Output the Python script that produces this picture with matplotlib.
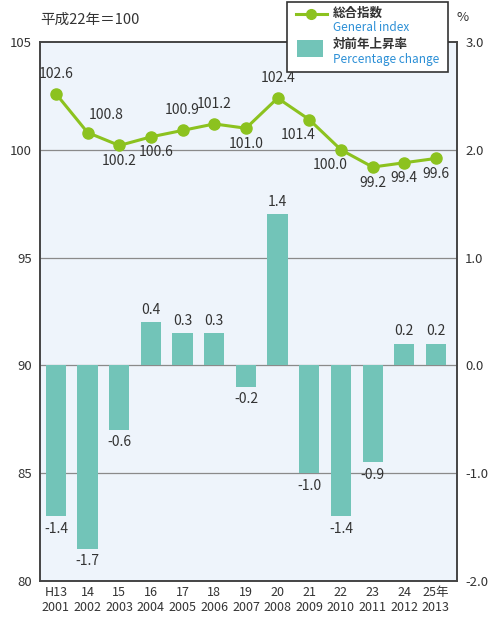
import numpy as np
import matplotlib.pyplot as plt
from matplotlib.lines import Line2D
from matplotlib.patches import Rectangle

plt.rcParams['font.family'] = ['Noto Sans CJK JP', 'DejaVu Sans']

# 年ラベル
jp_years = ['H13', '14', '15', '16', '17', '18', '19', '20', '21', '22', '23', '24', '25年']
ad_years = ['2001', '2002', '2003', '2004', '2005', '2006', '2007', '2008', '2009', '2010', '2011', '2012', '2013']

# 総合指数
index_vals = [102.6, 100.8, 100.2, 100.6, 100.9, 101.2, 101.0, 102.4, 101.4, 100.0, 99.2, 99.4, 99.6]
# 対前年上昇率
change_vals = [-1.4, -1.7, -0.6, 0.4, 0.3, 0.3, -0.2, 1.4, -1.0, -1.4, -0.9, 0.2, 0.2]
# ラベル位置と横ずれ
label_pos = ['up', 'upr', 'down', 'down', 'up', 'up', 'down', 'up', 'down', 'down', 'down', 'down', 'down']
label_dx = [0, 0.05, 0, 0.15, 0, 0, 0, 0, -0.35, -0.35, 0, 0, 0]

line_color = '#8cc21f'
bar_color = '#72c4b8'
text_color = '#333333'
en_color = '#2b8fd6'

fig = plt.figure(figsize=(4.95, 6.18), dpi=100)
ax = fig.add_axes([0.081, 0.06, 0.842, 0.872])
ax.set_facecolor('#eef4fb')
ax2 = ax.twinx()

x = np.arange(len(jp_years))

# 棒グラフ (右軸)
ax2.bar(x, change_vals, width=0.64, color=bar_color, zorder=2)
for xi, v in zip(x, change_vals):
    if v >= 0:
        ax2.text(xi, v + 0.05, f'{v:.1f}', ha='center', va='bottom', fontsize=10, color=text_color)
    else:
        ax2.text(xi, v - 0.05, f'{v:.1f}', ha='center', va='top', fontsize=10, color=text_color)
ax2.set_ylim(-2.0, 3.0)
ax2.set_yticks([-2.0, -1.0, 0.0, 1.0, 2.0, 3.0])
ax2.set_yticklabels(['-2.0', '-1.0', '0.0', '1.0', '2.0', '3.0'])

# 横線
for yv in [85, 90, 95, 100]:
    ax.axhline(yv, color='#8a8a8a', lw=0.9, zorder=0)

# 折れ線 (左軸の値を右軸に換算して前面に描く)
def to_right(v):
    return (v - 80) / 25 * 5 - 2.0

ax2.plot(x, [to_right(v) for v in index_vals], color=line_color, lw=2.2,
         marker='o', markersize=8, zorder=4)
for xi, v, p, dx in zip(x, index_vals, label_pos, label_dx):
    yr = to_right(v)
    if p == 'up':
        ax2.text(xi + dx, yr + 0.12, f'{v:.1f}', ha='center', va='bottom', fontsize=10, color=text_color, zorder=5)
    elif p == 'upr':
        ax2.text(xi + dx, yr + 0.1, f'{v:.1f}', ha='left', va='bottom', fontsize=10, color=text_color, zorder=5)
    else:
        ax2.text(xi + dx, yr - 0.08, f'{v:.1f}', ha='center', va='top', fontsize=10, color=text_color, zorder=5)

ax.set_ylim(80, 105)
ax.set_yticks([80, 85, 90, 95, 100, 105])
ax.set_xlim(-0.5, 12.66)
ax.set_xticks(x)
ax.set_xticklabels([f'{a}\n{b}' for a, b in zip(jp_years, ad_years)], fontsize=9, color=text_color, linespacing=1.15)

for a in (ax, ax2):
    a.tick_params(axis='y', labelsize=9.5, colors=text_color, length=0, pad=6)
    for s in a.spines.values():
        s.set_color('#444444')
        s.set_linewidth(1.2)
ax.tick_params(axis='x', length=0, pad=4)

fig.text(0.081, 0.968, '平成22年＝100', fontsize=10.5, color=text_color, va='center')
fig.text(0.922, 0.971, '%', fontsize=9.5, color=text_color, va='center')

# 凡例 (手描き)
fig.add_artist(Rectangle((0.58, 0.883), 0.325, 0.114, transform=fig.transFigure,
                         facecolor='white', edgecolor='#333333', lw=1.2, zorder=10))
fig.add_artist(Line2D([0.597, 0.66], [0.977, 0.977], transform=fig.transFigure,
                      color=line_color, lw=2.2, marker='', zorder=11))
fig.add_artist(Line2D([0.628], [0.977], transform=fig.transFigure,
                      color=line_color, marker='o', markersize=7, zorder=11))
fig.add_artist(Rectangle((0.6, 0.908), 0.052, 0.028, transform=fig.transFigure,
                         facecolor=bar_color, edgecolor='none', zorder=11))
fig.text(0.672, 0.978, '総合指数', fontsize=9, fontweight='bold', color=text_color, va='center', zorder=12)
fig.text(0.672, 0.956, 'General index', fontsize=8.5, color=en_color, va='center', zorder=12)
fig.text(0.672, 0.928, '対前年上昇率', fontsize=9, fontweight='bold', color=text_color, va='center', zorder=12)
fig.text(0.672, 0.904, 'Percentage change', fontsize=8.5, color=en_color, va='center', zorder=12)

fig.savefig('out.png', dpi=100)
